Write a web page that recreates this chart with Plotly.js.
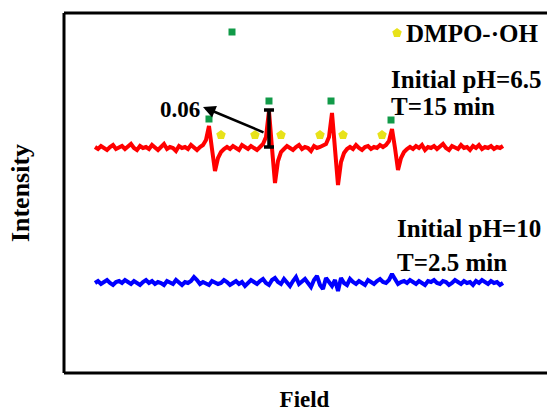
<!DOCTYPE html>
<html>
<head>
<meta charset="utf-8">
<script src="https://cdn.plot.ly/plotly-3.0.1.min.js"></script>
<style>html,body{margin:0;padding:0;background:#fff;overflow:hidden}#chart{width:547px;height:412px}</style>
</head>
<body>
<div id="chart"></div>
<script>
// Field sweep (G), one sample per field unit
var fieldStart = 3400;
// Red spectrum: Initial pH=6.5, T=15 min (a.u.)
var redIntensity = [
226,224,227,225,223,226,228,224,225,227,
224,226,229,225,223,227,225,226,224,228,
225,223,226,229,224,226,225,222,227,225,
226,224,228,225,223,226,228,233,247,224,
202,215,221,224,226,224,227,225,223,228,
226,224,227,225,223,226,229,236,262,225,
190,212,221,224,227,225,223,226,228,224,
226,225,222,227,225,226,227,229,236,260,
224,188,211,220,224,226,224,228,225,223,
226,227,224,226,225,228,226,228,232,244,
225,203,215,221,224,226,224,227,225,228,
223,226,225,227,224,226,229,225,223,227,
226,224,228,225,226,223,227,225,228,224,
226,225,227,224,226,225,227
];
// Blue spectrum: Initial pH=10, T=2.5 min (a.u.)
var blueIntensity = [
90,92,89,91,93,90,88,91,92,90,
93,91,89,92,90,88,91,93,90,92,
89,91,90,88,92,91,89,93,90,88,
91,90,92,96,93,89,91,90,88,92,
91,89,90,93,91,88,90,92,89,91,
87,90,93,91,89,92,94,90,88,93,
95,91,89,94,90,87,92,96,89,91,
94,90,86,93,97,88,84,95,91,87,
93,82,95,90,88,94,91,89,92,90,
88,93,91,89,92,94,91,90,93,99,
94,89,91,92,90,93,91,89,92,90,
88,92,91,93,90,89,92,91,88,90,
93,91,89,92,90,91,88,92,90,93,
91,89,92,90,91,88,90
];
// Peak markers
var squareField = [3445.67, 3438, 3458, 3478.67, 3498.67];
var squareInt   = [341, 254, 272, 272, 253];
var pentField = [3442, 3453.33, 3462, 3475, 3482.67, 3495.67, 3500.67];
var pentInt   = [238, 238, 238, 238, 238, 238, 340];
// Scale bar (0.06)
var barField = [3458];
var barCenter = [244.5];
var barHalf = [18.5];
var barLabel = "0.06";

function fieldAxis(n){ var a=[]; for(var i=0;i<n;i++) a.push(fieldStart+i); return a; }

var serif = "Liberation Serif, Times New Roman, serif";

var traces = [
  {x: fieldAxis(redIntensity.length), y: redIntensity, mode:'lines', line:{color:'#ff0000', width:4}, hoverinfo:'skip'},
  {x: fieldAxis(blueIntensity.length), y: blueIntensity, mode:'lines', line:{color:'#0000ff', width:4}, hoverinfo:'skip'},
  {x: squareField, y: squareInt, mode:'markers', marker:{symbol:'square', size:7, color:'#119a48'}},
  {x: pentField, y: pentInt, mode:'markers', marker:{symbol:'pentagon', size:10, color:'#e8e21a'}},
  {x: barField, y: barCenter, mode:'markers', marker:{size:1, color:'rgba(0,0,0,0)'},
   error_y:{type:'data', array: barHalf, symmetric:true, color:'#000', thickness:3.5, width:5}}
];

function txt(t, x, y, anchor, size){
  return {text:'<b>'+t+'</b>', x:x, y:y, xref:'x', yref:'y', xanchor:anchor||'left', yanchor:'middle',
    showarrow:false, font:{family:serif, size:size||25, color:'#000'}};
}

var frame = {color:'#000', width:3};
var layout = {
  width:547, height:412,
  margin:{l:64, r:2, t:13, b:39},
  paper_bgcolor:'#fff', plot_bgcolor:'#fff',
  showlegend:false,
  xaxis:{range:[3389.67, 3550], showgrid:false, zeroline:false, showticklabels:false, ticks:'', showline:false,
    automargin:false,
    title:{text:'<b>Field</b>', standoff:18, font:{family:serif, size:23, color:'#000'}}},
  yaxis:{range:[0,360], showgrid:false, zeroline:false, showticklabels:false, ticks:'', showline:false,
    automargin:false,
    title:{text:'<b>Intensity</b>', standoff:25, font:{family:serif, size:26, color:'#000'}}},
  shapes:[
    {type:'line', xref:'paper', yref:'paper', x0:0, x1:0, y0:0, y1:1, line:frame},
    {type:'line', xref:'paper', yref:'paper', x0:0, x1:1.02, y0:1, y1:1, line:frame},
    {type:'line', xref:'paper', yref:'paper', x0:0, x1:1.02, y0:0, y1:0, line:frame}
  ],
  annotations:[
    txt('DMPO-·OH', 3503, 340),
    txt('Initial pH=6.5', 3498, 294),
    txt('T=15 min', 3498, 267),
    txt('Initial pH=10', 3500, 145),
    txt('T=2.5 min', 3500, 111),
    txt(barLabel, 3428.33, 264, 'center', 23),
    {x:3436, y:266, ax:3456.67, ay:240, axref:'x', ayref:'y', xref:'x', yref:'y', text:'',
     showarrow:true, arrowhead:2, arrowsize:1, arrowwidth:2.5, arrowcolor:'#000'}
  ]
};

Plotly.newPlot('chart', traces, layout, {staticPlot:true, displayModeBar:false});
</script>
</body>
</html>
